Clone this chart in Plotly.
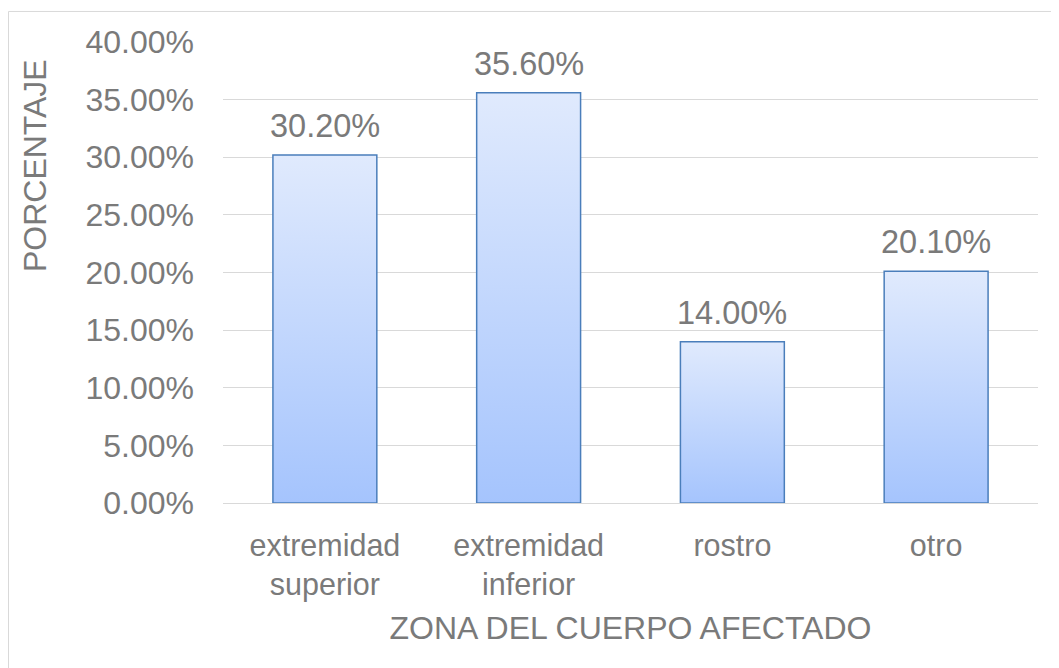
import plotly.graph_objects as go

categories = ["extremidad<br>superior", "extremidad<br>inferior", "rostro", "otro"]
values = [30.2, 35.6, 14.0, 20.1]
tick_vals = [0, 5, 10, 15, 20, 25, 30, 35, 40]
tick_text = ["0.00%", "5.00%", "10.00%", "15.00%", "20.00%", "25.00%", "30.00%", "35.00%", "40.00%"]

FONT = "Liberation Sans, Arial, sans-serif"
GRAY = "#7a7a7a"
HALF = 0.255

fig = go.Figure()
for i, v in enumerate(values):
    xs = [i - HALF, i + HALF, i + HALF, i - HALF, i - HALF]
    ys = [0, 0, v, v, 0]
    fig.add_trace(go.Scatter(
        x=xs, y=ys, mode="lines", fill="toself",
        line=dict(color="#4a7ebb", width=1.5),
        fillgradient=dict(type="vertical",
                          colorscale=[[0, "#a5c4fd"], [1, "#e0eafd"]]),
        hoverinfo="skip", showlegend=False,
    ))
    fig.add_annotation(x=i, y=v, text=f"{v:.2f}%", showarrow=False,
                       yanchor="bottom", yshift=9,
                       font=dict(family=FONT, size=32.5, color=GRAY))

fig.add_annotation(text="PORCENTAJE", xref="paper", yref="paper",
                   x=-0.2307, y=0.733, xanchor="center", yanchor="middle",
                   textangle=-90, showarrow=False,
                   font=dict(family=FONT, size=32, color=GRAY))

fig.add_shape(type="rect", xref="paper", yref="paper",
              x0=-0.2632, x1=1.5, y0=-1.0, y1=1.0662,
              line=dict(color="#d9d9d9", width=1), fillcolor="rgba(0,0,0,0)", layer="below")

fig.update_layout(
    width=1059, height=668,
    margin=dict(l=215, r=29, t=34, b=173),
    paper_bgcolor="white", plot_bgcolor="white",
    font=dict(family=FONT, size=30, color=GRAY),
    xaxis=dict(range=[-0.5, 3.5], tickvals=list(range(len(categories))), ticktext=categories,
               showgrid=False, zeroline=False, showline=True, linecolor="#d9d9d9", linewidth=1,
               ticks="", ticklabelstandoff=15,
               title=dict(text="ZONA DEL CUERPO AFECTADO", standoff=15,
                          font=dict(family=FONT, size=32, color=GRAY)),
               tickfont=dict(family=FONT, size=30.5, color=GRAY), fixedrange=True),
    yaxis=dict(range=[0, 40], tickvals=tick_vals, ticktext=tick_text,
               showgrid=True, gridcolor="#d9d9d9", gridwidth=1, zeroline=False,
               ticks="", ticklabelstandoff=28,
               tickfont=dict(family=FONT, size=32, color=GRAY), fixedrange=True),
)

fig.write_html("out.html")
